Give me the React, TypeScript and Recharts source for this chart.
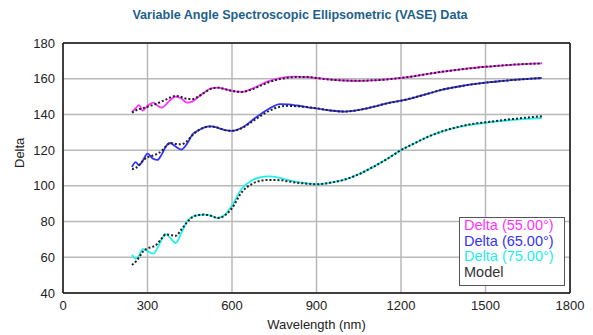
import React from "react";
import {
  LineChart, Line, XAxis, YAxis, CartesianGrid, ReferenceLine, Label,
} from "recharts";

const wavelengths = [
  245, 258, 270, 283, 300, 320, 335, 350, 365, 380, 400, 420, 440, 460, 480,
  500, 525, 550, 575, 600, 635, 670, 700, 730, 770, 800, 830, 870, 900, 950,
  1000, 1050, 1100, 1150, 1200, 1250, 1300, 1350, 1400, 1450, 1500, 1550, 1600, 1650, 1700,
];

const delta55 = [
  141.3, 143.5, 145.2, 142.2, 144.8, 146.6, 145.0, 143.8, 145.5, 148.0, 150.0, 149.0, 146.6, 147.3, 149.8,
  152.0, 154.6, 155.0, 154.2, 153.2, 152.6, 154.3, 156.5, 158.6, 160.3, 161.0, 161.2, 160.9, 160.4, 159.5,
  159.0, 158.8, 159.1, 159.6, 160.5, 161.5, 162.8, 164.0, 165.0, 165.9, 166.7, 167.3, 167.9, 168.3, 168.6,
];
const model55 = [
  141.0, 142.2, 143.0, 143.4, 144.3, 145.3, 146.2, 147.2, 148.3, 149.5, 150.3, 149.8, 148.7, 148.6, 150.0,
  152.0, 154.3, 155.0, 154.2, 153.2, 152.6, 154.0, 156.0, 158.0, 159.8, 160.6, 161.0, 160.9, 160.4, 159.5,
  159.0, 158.8, 159.1, 159.6, 160.5, 161.5, 162.8, 164.0, 165.0, 165.9, 166.7, 167.3, 167.9, 168.3, 168.6,
];

const delta65 = [
  110.5, 113.3, 111.5, 114.0, 118.0, 115.2, 114.5, 117.5, 122.0, 124.0, 122.0, 120.3, 123.5, 128.8, 131.0,
  132.6, 133.3, 132.5, 131.2, 130.8, 132.5, 136.5, 140.0, 143.0, 145.8, 145.6, 145.0, 144.0, 143.4, 142.2,
  141.6, 142.5, 144.2, 146.2, 147.7, 149.6, 151.8, 154.0, 155.5, 156.8, 157.8, 158.6, 159.3, 159.9, 160.4,
];
const model65 = [
  109.3, 110.0, 111.5, 114.0, 116.0, 117.0, 118.0, 119.5, 122.0, 124.0, 123.5, 123.3, 125.0, 128.5, 131.0,
  132.6, 133.3, 132.5, 131.2, 130.8, 132.3, 135.8, 139.0, 141.8, 144.3, 144.8, 144.6, 144.0, 143.4, 142.2,
  141.6, 142.5, 144.2, 146.2, 147.7, 149.6, 151.8, 154.0, 155.5, 156.8, 157.8, 158.6, 159.3, 159.9, 160.4,
];

const delta75 = [
  61.4, 59.2, 61.0, 64.5, 63.5, 62.0, 65.0, 70.0, 73.0, 71.0, 68.0, 73.5, 80.0, 82.8, 83.6,
  83.9, 83.3, 82.0, 83.8, 89.0, 98.5, 103.0, 104.8, 105.3, 104.5, 103.2, 102.2, 101.3, 100.9, 101.8,
  103.5, 106.5, 110.5, 115.0, 120.0, 124.0, 127.8, 130.7, 132.8, 134.3, 135.3, 136.2, 136.9, 137.5, 138.0,
];
const model75 = [
  55.7, 57.5, 60.0, 63.0, 65.0, 66.0, 67.5, 70.5, 72.8, 72.5, 72.0, 75.5, 79.5, 82.5, 83.6,
  83.9, 83.3, 82.0, 83.5, 87.5, 96.5, 101.0, 102.8, 103.3, 103.2, 102.5, 101.8, 101.2, 100.9, 101.8,
  103.5, 106.5, 110.5, 115.0, 120.0, 124.0, 127.8, 130.7, 132.9, 134.6, 135.6, 136.6, 137.5, 138.3, 139.0,
];

const xTicks = [0, 300, 600, 900, 1200, 1500, 1800];
const yTicks = [40, 60, 80, 100, 120, 140, 160, 180];

const legendItems = [
  { label: "Delta (55.00°)", color: "#ff33ff" },
  { label: "Delta (65.00°)", color: "#3333ff" },
  { label: "Delta (75.00°)", color: "#22eeee" },
  { label: "Model", color: "#333333" },
];

const data = wavelengths.map((wl, i) => ({
  wl,
  d55: delta55[i], m55: model55[i],
  d65: delta65[i], m65: model65[i],
  d75: delta75[i], m75: model75[i],
}));

const font = "'Liberation Sans', Arial, sans-serif";
const tick = { fontSize: 13, fill: "#222", fontFamily: font };

export default function App() {
  return (
    <div style={{ position: "absolute", left: 0, top: 0, width: 593, height: 335, background: "#fff", fontFamily: font }}>
      <div
        style={{
          position: "absolute", left: 0, width: 600, top: 8, textAlign: "center",
          fontSize: 12.6, fontWeight: "bold", color: "#1d5f8c",
        }}
      >
        Variable Angle Spectroscopic Ellipsometric (VASE) Data
      </div>
      <LineChart width={593} height={335} data={data} margin={{ top: 43, right: 23, bottom: 12, left: 0 }}>
        <CartesianGrid stroke="#b8b8b8" strokeWidth={1.5} />
        <XAxis
          dataKey="wl" type="number" domain={[0, 1800]} ticks={xTicks} height={30}
          tick={tick} tickLine={false} stroke="#111" strokeWidth={1.5}
        >
          <Label value="Wavelength (nm)" position="insideBottom" offset={-6} style={{ fontSize: 13, fill: "#222", fontFamily: font }} />
        </XAxis>
        <YAxis
          type="number" domain={[40, 180]} ticks={yTicks} width={63}
          tick={tick} tickLine={false} stroke="#111" strokeWidth={1.5}
        >
          <Label value="Delta" angle={-90} position="insideLeft" offset={19} style={{ fontSize: 13, fill: "#222", fontFamily: font }} />
        </YAxis>
        <ReferenceLine y={180} stroke="#111" strokeWidth={1.5} />
        <ReferenceLine x={1800} stroke="#111" strokeWidth={1.5} />
        <Line dataKey="d55" type="monotone" stroke="#ff33ff" strokeWidth={1.8} dot={false} isAnimationActive={false} />
        <Line dataKey="d65" type="monotone" stroke="#3333ff" strokeWidth={1.8} dot={false} isAnimationActive={false} />
        <Line dataKey="d75" type="monotone" stroke="#22eeee" strokeWidth={1.8} dot={false} isAnimationActive={false} />
        <Line dataKey="m55" type="monotone" stroke="#222" strokeWidth={2} strokeDasharray="2 2" dot={false} isAnimationActive={false} />
        <Line dataKey="m65" type="monotone" stroke="#222" strokeWidth={2} strokeDasharray="2 2" dot={false} isAnimationActive={false} />
        <Line dataKey="m75" type="monotone" stroke="#222" strokeWidth={2} strokeDasharray="2 2" dot={false} isAnimationActive={false} />
      </LineChart>
      <div
        style={{
          position: "absolute", left: 459, top: 217, width: 100, height: 67,
          border: "1px solid #555", background: "#fff", padding: "0 0 0 4px",
          fontSize: 14.5, lineHeight: "15.5px",
        }}
      >
        {legendItems.map((it) => (
          <div key={it.label} style={{ color: it.color }}>{it.label}</div>
        ))}
      </div>
    </div>
  );
}
